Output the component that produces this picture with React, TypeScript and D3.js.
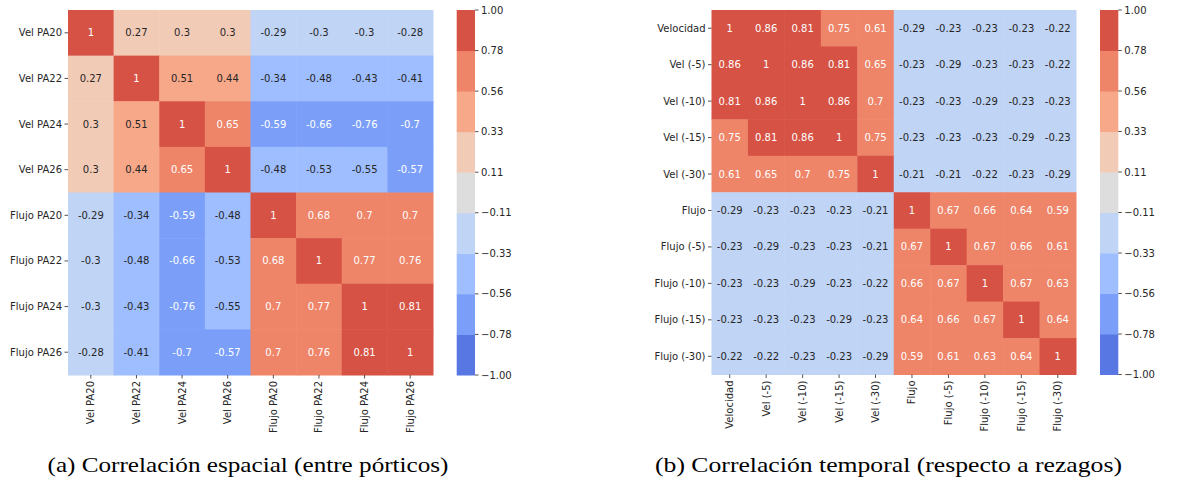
import React from "react";
import * as d3 from "d3";

const labelsA = ["Vel PA20", "Vel PA22", "Vel PA24", "Vel PA26", "Flujo PA20", "Flujo PA22", "Flujo PA24", "Flujo PA26"];
const valuesA = [
  [1, 0.27, 0.3, 0.3, -0.29, -0.3, -0.3, -0.28],
  [0.27, 1, 0.51, 0.44, -0.34, -0.48, -0.43, -0.41],
  [0.3, 0.51, 1, 0.65, -0.59, -0.66, -0.76, -0.7],
  [0.3, 0.44, 0.65, 1, -0.48, -0.53, -0.55, -0.57],
  [-0.29, -0.34, -0.59, -0.48, 1, 0.68, 0.7, 0.7],
  [-0.3, -0.48, -0.66, -0.53, 0.68, 1, 0.77, 0.76],
  [-0.3, -0.43, -0.76, -0.55, 0.7, 0.77, 1, 0.81],
  [-0.28, -0.41, -0.7, -0.57, 0.7, 0.76, 0.81, 1],
];

const labelsB = ["Velocidad", "Vel (-5)", "Vel (-10)", "Vel (-15)", "Vel (-30)", "Flujo", "Flujo (-5)", "Flujo (-10)", "Flujo (-15)", "Flujo (-30)"];
const valuesB = [
  [1, 0.86, 0.81, 0.75, 0.61, -0.29, -0.23, -0.23, -0.23, -0.22],
  [0.86, 1, 0.86, 0.81, 0.65, -0.23, -0.29, -0.23, -0.23, -0.22],
  [0.81, 0.86, 1, 0.86, 0.7, -0.23, -0.23, -0.29, -0.23, -0.23],
  [0.75, 0.81, 0.86, 1, 0.75, -0.23, -0.23, -0.23, -0.29, -0.23],
  [0.61, 0.65, 0.7, 0.75, 1, -0.21, -0.21, -0.22, -0.23, -0.29],
  [-0.29, -0.23, -0.23, -0.23, -0.21, 1, 0.67, 0.66, 0.64, 0.59],
  [-0.23, -0.29, -0.23, -0.23, -0.21, 0.67, 1, 0.67, 0.66, 0.61],
  [-0.23, -0.23, -0.29, -0.23, -0.22, 0.66, 0.67, 1, 0.67, 0.63],
  [-0.23, -0.23, -0.23, -0.29, -0.23, 0.64, 0.66, 0.67, 1, 0.64],
  [-0.22, -0.22, -0.23, -0.23, -0.29, 0.59, 0.61, 0.63, 0.64, 1],
];

const binColors = ["#5977e3", "#7b9ff9", "#9ebeff", "#c0d4f5", "#dddddd", "#f2cbb7", "#f7a889", "#ee8468", "#d65244"];
const binEdges = d3.range(10).map((k) => -1 + (2 * k) / 9);
const cbarTicks = binEdges.slice();

const captionA = "(a) Correlación espacial (entre pórticos)";
const captionB = "(b) Correlación temporal (respecto a rezagos)";

const FONT = "DejaVu Sans";
const FS = 10;
const DARK = "#262626";

const color = d3.scaleThreshold<number, string>().domain(binEdges.slice(1, 9)).range(binColors);

function lum(c: string) {
  const rgb = d3.rgb(c);
  const f = (v: number) => {
    const s = v / 255;
    return s <= 0.03928 ? s / 12.92 : Math.pow((s + 0.055) / 1.055, 2.4);
  };
  return 0.2126 * f(rgb.r) + 0.7152 * f(rgb.g) + 0.0722 * f(rgb.b);
}

function fmtMinus(s: string) {
  return s.replace("-", "\u2212");
}

type HMProps = { labels: string[]; values: number[][]; x0: number; y0: number; size: number; cbX: number; cbW: number };

function Heatmap({ labels, values, x0, y0, size, cbX, cbW }: HMProps) {
  const x = d3.scaleBand<string>().domain(labels).range([x0, x0 + size]);
  const y = d3.scaleBand<string>().domain(labels).range([y0, y0 + size]);
  const cy = d3.scaleLinear().domain([-1, 1]).range([y0 + size, y0]);
  const bw = x.bandwidth();
  return (
    <g>
      {values.map((row, i) =>
        row.map((v, j) => (
          <rect key={`${i}-${j}`} x={x(labels[j])!} y={y(labels[i])!} width={bw + 0.5} height={bw + 0.5} fill={color(v)} />
        ))
      )}
      {values.map((row, i) =>
        row.map((v, j) => {
          const c = color(v);
          return (
            <text
              key={`t${i}-${j}`}
              x={x(labels[j])! + bw / 2}
              y={y(labels[i])! + bw / 2}
              dy="0.35em"
              textAnchor="middle"
              fontFamily={FONT}
              fontSize={FS}
              fill={lum(c) > 0.408 ? DARK : "#ffffff"}
            >
              {String(v)}
            </text>
          );
        })
      )}
      {labels.map((l) => {
        const yc = y(l)! + bw / 2;
        return (
          <g key={`y${l}`}>
            <line x1={x0 - 3.5} x2={x0} y1={yc} y2={yc} stroke={DARK} strokeWidth={0.8} />
            <text x={x0 - 6} y={yc} dy="0.35em" textAnchor="end" fontFamily={FONT} fontSize={FS} fill={DARK}>
              {l}
            </text>
          </g>
        );
      })}
      {labels.map((l) => {
        const xc = x(l)! + bw / 2;
        const yb = y0 + size;
        return (
          <g key={`x${l}`}>
            <line x1={xc} x2={xc} y1={yb} y2={yb + 3.5} stroke={DARK} strokeWidth={0.8} />
            <text
              transform={`translate(${xc},${yb + 6}) rotate(-90)`}
              dy="0.35em"
              textAnchor="end"
              fontFamily={FONT}
              fontSize={FS}
              fill={DARK}
            >
              {l}
            </text>
          </g>
        );
      })}
      {binColors.map((c, k) => (
        <rect key={`cb${k}`} x={cbX} y={cy(binEdges[k + 1])} width={cbW} height={cy(binEdges[k]) - cy(binEdges[k + 1]) + 0.5} fill={c} />
      ))}
      {cbarTicks.map((t, k) => (
        <g key={`ct${k}`}>
          <line x1={cbX + cbW} x2={cbX + cbW + 3.5} y1={cy(t)} y2={cy(t)} stroke={DARK} strokeWidth={0.8} />
          <text x={cbX + cbW + 6} y={cy(t)} dy="0.35em" fontFamily={FONT} fontSize={FS} fill={DARK}>
            {fmtMinus(d3.format(".2f")(t))}
          </text>
        </g>
      ))}
    </g>
  );
}

export default function App() {
  return (
    <svg
      width={1201}
      height={479}
      style={{ position: "absolute", left: 0, top: 0, display: "block", background: "#ffffff" }}
    >
      <rect x={0} y={0} width={1201} height={479} fill="#ffffff" />
      <Heatmap labels={labelsA} values={valuesA} x0={68} y0={10} size={365} cbX={456.7} cbW={18.3} />
      <Heatmap labels={labelsB} values={valuesB} x0={711.5} y0={10} size={364.5} cbX={1100} cbW={18.3} />
      <text x={248} y={471.5} textAnchor="middle" fontFamily="Liberation Serif" fontSize={22} fill="#000" textLength={401} lengthAdjust="spacingAndGlyphs">
        {captionA}
      </text>
      <text x={888.5} y={471.5} textAnchor="middle" fontFamily="Liberation Serif" fontSize={22} fill="#000" textLength={467} lengthAdjust="spacingAndGlyphs">
        {captionB}
      </text>
    </svg>
  );
}
